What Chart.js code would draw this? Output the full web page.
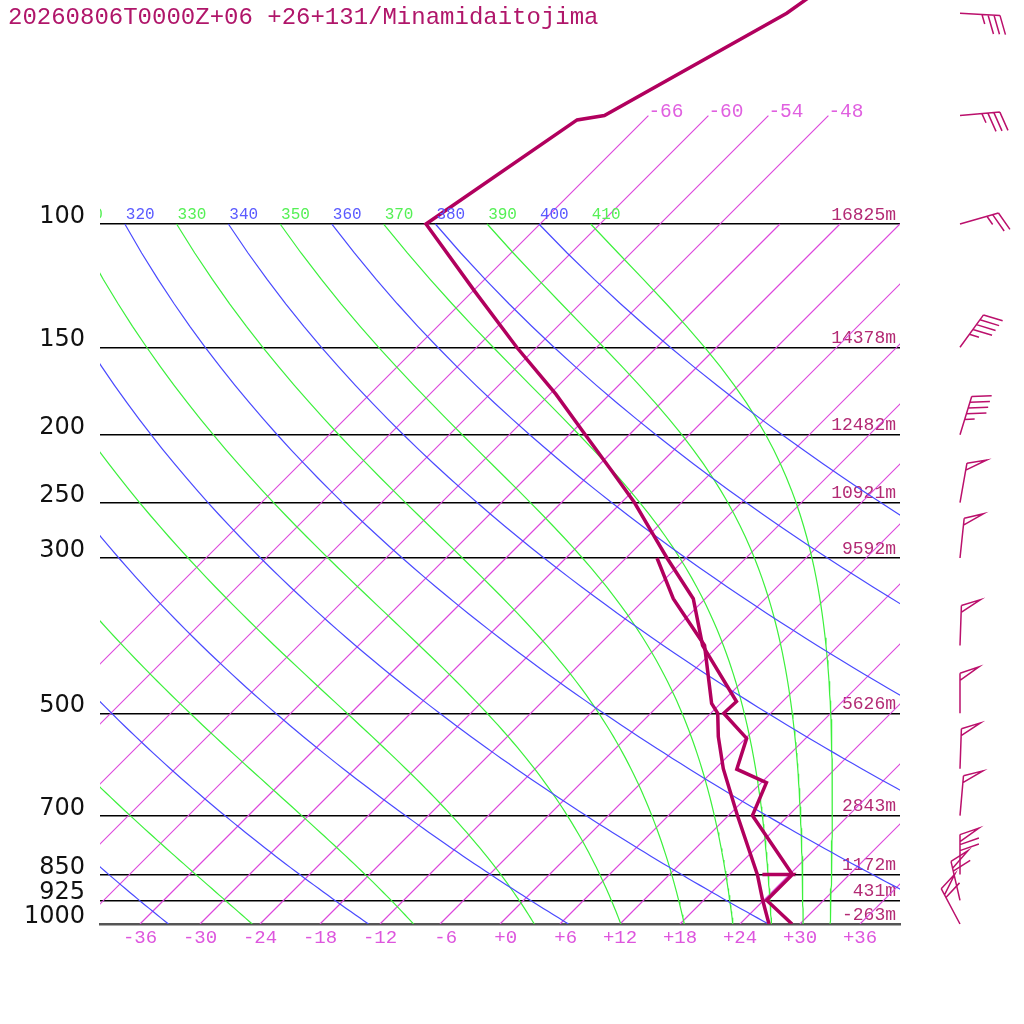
<!DOCTYPE html>
<html>
<head>
<meta charset="utf-8">
<title>Skew-T Minamidaitojima</title>
<script src="https://cdn.jsdelivr.net/npm/chart.js@4.4.1/dist/chart.umd.min.js"></script>
<style>
  html, body { margin: 0; padding: 0; background: #fff; }
  #wrap { width: 1024px; height: 1024px; }
</style>
</head>
<body>
<div id="wrap"><canvas id="skewt" width="1024" height="1024"></canvas></div>
<script>
const stationTitle = '20260806T0000Z+06 +26+131/Minamidaitojima';

// pressure levels drawn as axis lines, with the heights written at their right end
const pressureTicks = [1000, 925, 850, 700, 500, 300, 250, 200, 150, 100];
const heightLabels = ['-263m', '431m', '1172m', '2843m', '5626m', '9592m', '10921m', '12482m', '14378m', '16825m'];
const tempTicks = [-36, -30, -24, -18, -12, -6, 0, 6, 12, 18, 24, 30, 36];

// background lines of the diagram
const isotherms = [-66, -60, -54, -48, -42, -36, -30, -24, -18, -12, -6, 0, 6, 12, 18, 24, 30, 36];
const labelledIsotherms = [-66, -60, -54, -48];
const dryAdiabats = [240, 260, 280, 300, 320, 340, 360, 380, 400];
const moistAdiabats = [250, 270, 290, 310, 330, 350, 370, 390, 410];

// temperature profile (hPa, degC)
const tempPres = [30, 50, 70, 71, 100, 125, 150, 175, 200, 225, 250, 275, 300, 343, 400, 481, 500, 543, 601, 628, 700, 850, 850, 850, 925, 1000];
const tempVals = [-56.2, -62.4, -70.4, -72.7, -77.4, -65.7, -56.0, -47.4, -40.4, -34.2, -28.7, -24.1, -19.9, -13.2, -7.6, 1.4, 1.3, 6.1, 8.2, 12.5, 14.4, 24.3, 21.3, 24.3, 24.3, 29.2];

// dew point profile (hPa, degC)
const dewPres = [300, 343, 400, 484, 500, 540, 600, 700, 850, 925, 1000];
const dewVals = [-20.9, -15.2, -7.4, -0.9, 0.7, 3.1, 6.8, 12.9, 20.8, 23.9, 26.9];

// winds (hPa, direction from, knots)
const windPres = [50, 70, 100, 150, 200, 250, 300, 400, 500, 600, 700, 850, 925, 1000];
const windDir = [93, 85, 74, 36, 17, 10, 6, 2, 0, 2, 5, 0, 347, 332];
const windSpd = [35, 35, 25, 45, 45, 50, 50, 50, 50, 50, 50, 70, 60, 60];

const PROFILE = '#b1005e';
const MAGENTA = '#dc48dc';
const BLUE = '#4a4aff';
const GREEN = '#3cf03c';
const SKEW = 30.4;   // degC of shift per unit of ln(p)
const TOP_P = 47.86;

function skewX(t, p) {
    return t + SKEW * Math.log(1000 / p);
}

function dryLine(theta) {
    const pts = [];
    for (let p = 100; p <= 1000; p += 10) {
        const t = theta * Math.pow(p / 1000, 0.286) - 273.15;
        pts.push({ x: skewX(t, p), y: p });
    }
    return pts;
}

// saturated (pseudo) adiabatic lapse rate dT/dp in K/hPa
function moistRate(p, tk) {
    const Rd = 287.04, cp = 1005.7, Lv = 2.501e6, eps = 0.622;
    const tc = tk - 273.15;
    const es = 6.112 * Math.exp(17.67 * tc / (tc + 243.5));
    const rs = eps * es / (p - es);
    return (Rd * tk + Lv * rs) / (cp + Lv * Lv * rs * eps / (Rd * tk * tk)) / p;
}

function moistLine(theta) {
    let tk = theta * Math.pow(0.1, 0.286);
    const dp = 2;
    const pts = [{ x: skewX(tk - 273.15, 100), y: 100 }];
    for (let i = 0; i < 450; i++) {
        const p = 100 + i * dp;
        const k1 = moistRate(p, tk);
        const k2 = moistRate(p + dp / 2, tk + k1 * dp / 2);
        const k3 = moistRate(p + dp / 2, tk + k2 * dp / 2);
        const k4 = moistRate(p + dp, tk + k3 * dp);
        tk += dp * (k1 + 2 * k2 + 2 * k3 + k4) / 6;
        if ((i + 1) % 5 === 0) pts.push({ x: skewX(tk - 273.15, p + dp), y: p + dp });
    }
    return pts;
}

function lineSet(data, color, width, order) {
    return {
        data: data,
        showLine: true,
        borderColor: color,
        borderWidth: width,
        pointRadius: 0,
        tension: 0,
        fill: false,
        order: order
    };
}

const datasets = [];
datasets.push(lineSet(tempPres.map((p, i) => ({ x: skewX(tempVals[i], p), y: p })), PROFILE, 3.5, 0));
datasets.push(lineSet(dewPres.map((p, i) => ({ x: skewX(dewVals[i], p), y: p })), PROFILE, 3.5, 0));
dryAdiabats.forEach(th => datasets.push(lineSet(dryLine(th), BLUE, 1.2, 1)));
moistAdiabats.forEach(th => datasets.push(lineSet(moistLine(th), GREEN, 1.2, 1)));
isotherms.forEach(t => {
    const top = labelledIsotherms.includes(t) ? 70 : 100;
    datasets.push(lineSet([{ x: skewX(t, 1000), y: 1000 }, { x: skewX(t, top), y: top }], MAGENTA, 1.2, 2));
});

function drawBarb(ctx, x0, y0, dir, spd) {
    const rad = dir * Math.PI / 180;
    const ux = Math.sin(rad), uy = -Math.cos(rad);
    const a = 71 * Math.PI / 180;
    const bx = ux * Math.cos(a) - uy * Math.sin(a);
    const by = ux * Math.sin(a) + uy * Math.cos(a);
    const L = 40, full = 20, gap = 6;
    const at = d => [x0 + ux * d, y0 + uy * d];

    ctx.beginPath();
    ctx.moveTo(x0, y0);
    ctx.lineTo(...at(L));
    let s = Math.round(spd / 5) * 5;
    const flags = Math.floor(s / 50); s -= flags * 50;
    const barbs = Math.floor(s / 10); s -= barbs * 10;
    let pos = L;
    for (let i = 0; i < flags; i++) {
        const [px, py] = at(pos);
        ctx.moveTo(px, py);
        ctx.lineTo(px + bx * full, py + by * full);
        ctx.lineTo(...at(pos - 7));
        pos -= 10;
    }
    for (let i = 0; i < barbs; i++) {
        const [px, py] = at(pos);
        ctx.moveTo(px, py);
        ctx.lineTo(px + bx * full, py + by * full);
        pos -= gap;
    }
    if (s >= 5) {
        const [px, py] = at(pos);
        ctx.moveTo(px, py);
        ctx.lineTo(px + bx * full / 2, py + by * full / 2);
    }
    ctx.stroke();
}

const overlay = {
    id: 'overlay',
    afterDraw(chart) {
        const ctx = chart.ctx;
        const xs = chart.scales.x, ys = chart.scales.y;
        const area = chart.chartArea;

        ctx.save();
        ctx.fillStyle = '#b0166a';
        ctx.font = '24px "Liberation Mono"';
        ctx.textAlign = 'left';
        ctx.textBaseline = 'alphabetic';
        ctx.fillText(stationTitle, 8, 24);

        // adiabat labels along the 100 hPa line
        ctx.beginPath();
        ctx.rect(area.left, 0, area.right - area.left, area.bottom);
        ctx.clip();
        ctx.font = '16px "Liberation Mono"';
        const y100 = ys.getPixelForValue(100);
        dryAdiabats.forEach(th => {
            const t = th * Math.pow(0.1, 0.286) - 273.15;
            ctx.fillStyle = '#5a5aff';
            ctx.fillText(String(th), xs.getPixelForValue(skewX(t, 100)) + 1, y100 - 5);
        });
        moistAdiabats.forEach(th => {
            const t = th * Math.pow(0.1, 0.286) - 273.15;
            ctx.fillStyle = '#55f055';
            ctx.fillText(String(th), xs.getPixelForValue(skewX(t, 100)) + 1, y100 - 5);
        });

        // isotherm labels at the top of the long isotherms
        ctx.font = '19.5px "Liberation Mono"';
        ctx.fillStyle = '#e060e0';
        const y70 = ys.getPixelForValue(70);
        labelledIsotherms.forEach(t => {
            ctx.fillText(String(t), xs.getPixelForValue(skewX(t, 70)), y70 + 1);
        });
        ctx.restore();

        // wind barbs
        ctx.save();
        ctx.strokeStyle = '#bb106c';
        ctx.lineWidth = 1.5;
        ctx.lineJoin = 'miter';
        windPres.forEach((p, i) => {
            drawBarb(ctx, 960, ys.getPixelForValue(p), windDir[i], windSpd[i]);
        });
        ctx.restore();
    }
};

function tempLabel(v) {
    const s = (v < 0 ? '-' : '+') + Math.abs(v);
    return s.length < 3 ? ' '.repeat(3 - s.length) + s : s;
}

function noEdgePadding(s, width) {
    s.width = width;
    s.paddingTop = 0;
    s.paddingBottom = 0;
}

new Chart(document.getElementById('skewt'), {
    type: 'scatter',
    data: { datasets: datasets },
    plugins: [overlay],
    options: {
        responsive: false,
        devicePixelRatio: 1,
        animation: false,
        events: [],
        layout: { padding: { left: 0, right: 124, top: 0, bottom: 0 } },
        plugins: {
            legend: { display: false },
            title: { display: false },
            tooltip: { enabled: false }
        },
        scales: {
            x: {
                type: 'linear',
                min: -40,
                max: 40,
                afterFit: s => { s.height = 100; s.paddingLeft = 0; s.paddingRight = 0; },
                afterBuildTicks: s => { s.ticks = tempTicks.map(v => ({ value: v })); },
                grid: { display: false },
                border: { display: true, color: '#555', width: 2.5 },
                ticks: {
                    autoSkip: false,
                    maxRotation: 0,
                    padding: -5,
                    color: '#dd55dd',
                    font: { family: 'Liberation Mono', size: 19 },
                    callback: v => tempLabel(v)
                }
            },
            y: {
                type: 'logarithmic',
                position: 'left',
                reverse: true,
                min: TOP_P,
                max: 1000,
                afterFit: s => noEdgePadding(s, 100),
                afterBuildTicks: s => { s.ticks = pressureTicks.map(v => ({ value: v })); },
                grid: { color: '#000', lineWidth: 1.5, drawTicks: false },
                border: { display: false },
                ticks: {
                    autoSkip: false,
                    padding: 15,
                    color: '#111',
                    font: { family: 'DejaVu Sans', size: 24, lineHeight: 0.6 },
                    callback: v => [String(v), '']
                }
            },
            y2: {
                type: 'logarithmic',
                position: 'right',
                reverse: true,
                min: TOP_P,
                max: 1000,
                afterFit: s => noEdgePadding(s, 0),
                afterBuildTicks: s => { s.ticks = pressureTicks.map(v => ({ value: v })); },
                grid: { display: false, drawTicks: false },
                border: { display: false },
                ticks: {
                    autoSkip: false,
                    mirror: true,
                    padding: -4,
                    color: '#b32a74',
                    font: { family: 'Liberation Mono', size: 18, lineHeight: 1 },
                    callback: v => [heightLabels[pressureTicks.indexOf(v)], '']
                }
            }
        }
    }
});
</script>
</body>
</html>
